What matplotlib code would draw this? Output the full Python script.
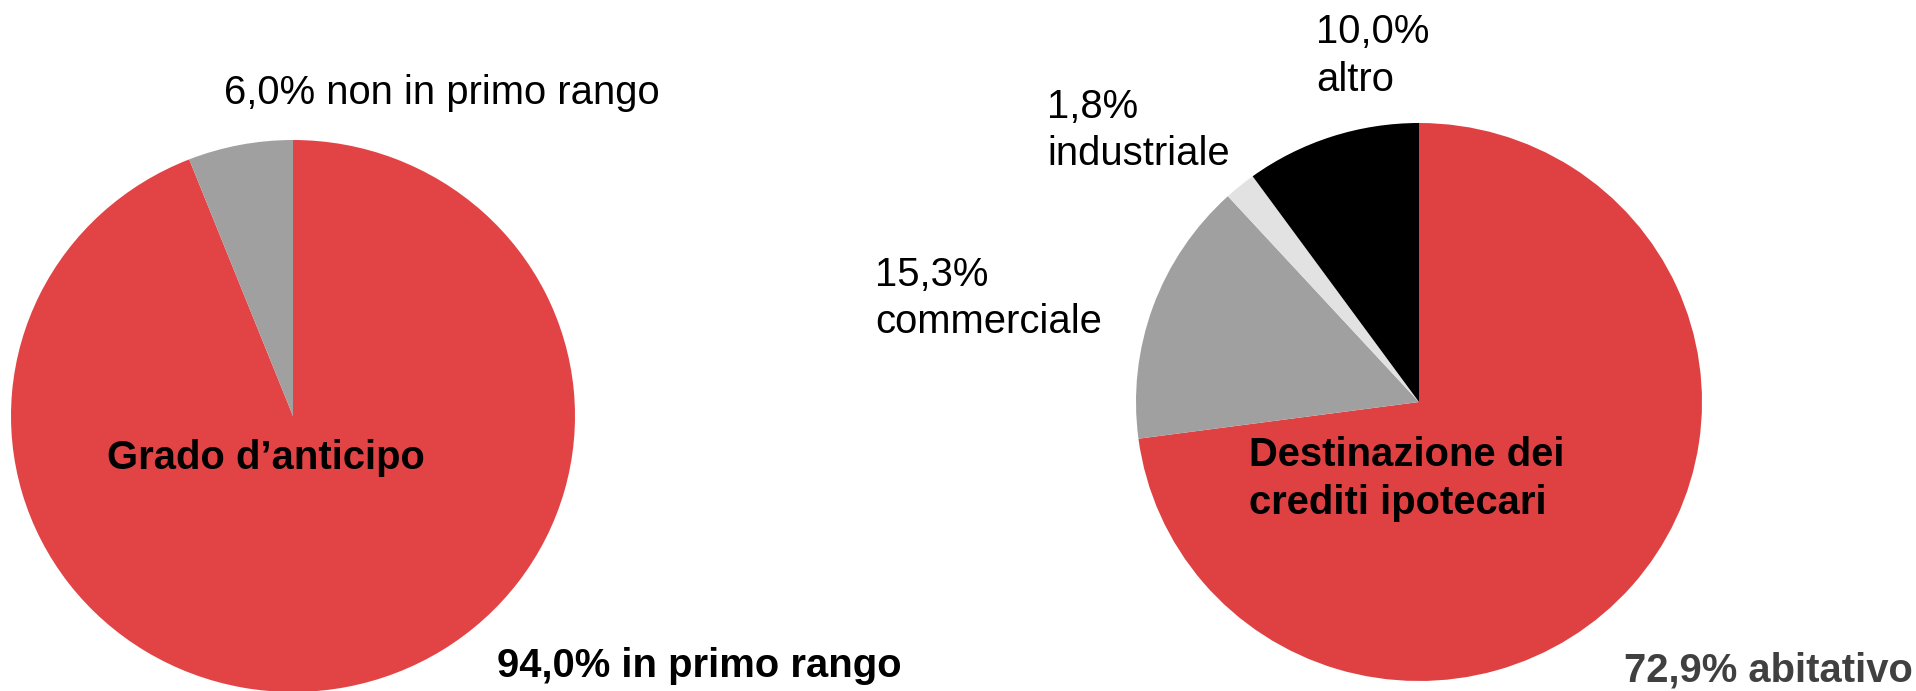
import matplotlib
matplotlib.use("Agg")
import matplotlib.pyplot as plt

plt.rcParams['font.family'] = ['Liberation Sans', 'DejaVu Sans']

# ---- data ----
rank_categories = ["in primo rango", "non in primo rango"]
rank_values = [94.0, 6.0]
rank_colors = ["#E24446", "#A0A0A0"]
rank_title = "Grado d\u2019anticipo"

dest_categories = ["abitativo", "commerciale", "industriale", "altro"]
dest_values = [72.9, 15.3, 1.8, 10.0]
dest_colors = ["#DF4143", "#A0A0A0", "#E2E2E2", "#000000"]
dest_title = ["Destinazione dei", "crediti ipotecari"]

W, H = 1916, 691
fig = plt.figure(figsize=(W / 100, H / 100), dpi=100)


def add_axes_px(x0, y0, x1, y1):
    return fig.add_axes([x0 / W, 1 - y1 / H, (x1 - x0) / W, (y1 - y0) / H])


def txt(x, y, s, bold=False, color="black"):
    fig.text(x / W, 1 - y / H, s, fontsize=28.8,
             fontweight="bold" if bold else "normal",
             color=color, ha="left", va="baseline")


def pct(v):
    return f"{v:.1f}".replace(".", ",") + "%"


# ---- left pie ----
axl = add_axes_px(11, 140, 575, 692)
axl.pie(rank_values, colors=rank_colors, startangle=90, counterclock=False,
        radius=1, wedgeprops=dict(linewidth=0))
axl.set_aspect("auto")
axl.set_xlim(-1, 1)
axl.set_ylim(-1, 1)
axl.axis("off")

txt(224, 104, f"{pct(rank_values[1])} {rank_categories[1]}")
txt(107, 469, rank_title, bold=True)
txt(497, 677, f"{pct(rank_values[0])} {rank_categories[0]}", bold=True)

# ---- right pie ----
axr = add_axes_px(1136, 123, 1702, 681)
axr.pie(dest_values, colors=dest_colors, startangle=90, counterclock=False,
        radius=1, wedgeprops=dict(linewidth=0))
axr.set_aspect("auto")
axr.set_xlim(-1, 1)
axr.set_ylim(-1, 1)
axr.axis("off")

txt(1249, 466, dest_title[0], bold=True)
txt(1249, 514, dest_title[1], bold=True)

txt(875, 286, pct(dest_values[1]))
txt(875, 333, dest_categories[1])
txt(1047, 118, pct(dest_values[2]))
txt(1047, 165, dest_categories[2])
txt(1316, 43, pct(dest_values[3]))
txt(1316, 91, dest_categories[3])
txt(1624, 681, f"{pct(dest_values[0])} {dest_categories[0]}", bold=True,
    color="#404040")

fig.savefig("out.png", dpi=100)
